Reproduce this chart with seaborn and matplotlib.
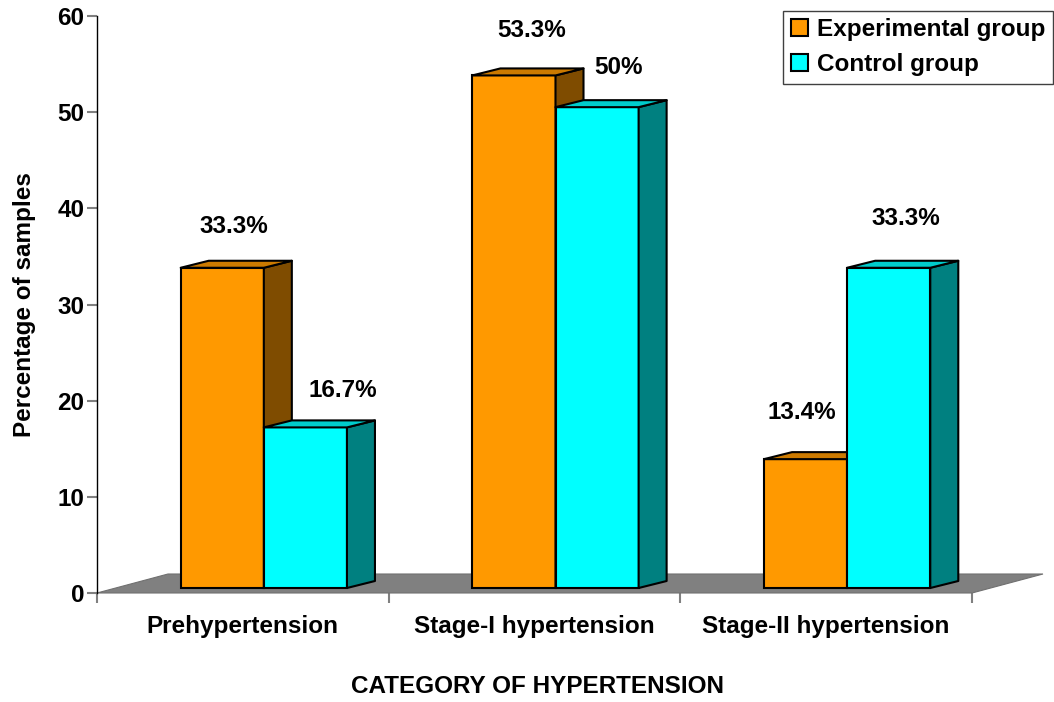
import pandas as pd
import seaborn as sns
import matplotlib.pyplot as plt
from matplotlib.patches import Polygon, Patch

# ---- data ----
categories = ["Prehypertension", "Stage-I hypertension", "Stage-II hypertension"]
groups = ["Experimental group", "Control group"]
experimental = [33.3, 53.3, 13.4]
control = [16.7, 50.0, 33.3]
labels_experimental = ["33.3%", "53.3%", "13.4%"]
labels_control = ["16.7%", "50%", "33.3%"]
yticks = [0, 10, 20, 30, 40, 50, 60]

# ---- styling ----
front_colors = {"Experimental group": "#FF9900", "Control group": "#00FFFF"}
side_colors = {"Experimental group": "#7F4C00", "Control group": "#008080"}
top_colors = {"Experimental group": "#CC7A00", "Control group": "#00CCCC"}
# value-label placement relative to the top-centre of each bar's front face (pixels)
label_nudge = {
    "Experimental group": [(12, 41), (18, 45), (-4, 47)],
    "Control group": [(37, 37), (21, 40), (17, 49)],
}
FS = 17.5

df = pd.DataFrame({
    "category": categories * 2,
    "group": [groups[0]] * len(categories) + [groups[1]] * len(categories),
    "value": experimental + control,
})
value_labels = {groups[0]: labels_experimental, groups[1]: labels_control}

sns.set_theme(style="white")
plt.rcParams["font.family"] = ["Liberation Sans", "DejaVu Sans"]
plt.rcParams["font.weight"] = "bold"
plt.rcParams["text.color"] = "black"
plt.rcParams["axes.labelcolor"] = "black"
plt.rcParams["axes.labelweight"] = "bold"

W, H = 1054, 702
fig = plt.figure(figsize=(W / 100, H / 100), dpi=100)
ax = fig.add_axes([97 / W, 109 / H, 875 / W, 577 / H])

sns.barplot(data=df, x="category", y="value", hue="group",
            order=categories, hue_order=groups, palette=front_colors,
            width=0.57, saturation=1, edgecolor="black", linewidth=1.5,
            errorbar=None, legend=False, ax=ax)

ax.set_xlim(-0.5, 2.5)
ax.set_ylim(0, 60)

# pseudo-3D offsets expressed in data units
ux = 3 / 875      # data units per pixel (x)
uy = 60 / 577     # data units per pixel (y)
shift_x, shift_y = 21 * ux, 5 * uy        # bars sit a little into the floor
depth_x, depth_y = 28 * ux, 7 * uy        # bar depth
floor_x, floor_y = 71 * ux, 19 * uy       # floor depth

# floor
floor = Polygon([(-0.5, 0), (2.5, 0), (2.5 + floor_x, floor_y), (-0.5 + floor_x, floor_y)],
                closed=True, facecolor="#808080", edgecolor="#707070", linewidth=0.8,
                zorder=1, clip_on=False)
ax.add_patch(floor)

for level, (container, group) in enumerate(zip(ax.containers, groups)):
    z = 3 + level
    for bar, text, (nx, ny) in zip(container, value_labels[group], label_nudge[group]):
        x0 = bar.get_x() + shift_x
        w = bar.get_width()
        h = bar.get_height()
        y0 = shift_y
        bar.set_x(x0)
        bar.set_y(y0)
        bar.set_zorder(z)
        side = Polygon([(x0 + w, y0), (x0 + w + depth_x, y0 + depth_y),
                        (x0 + w + depth_x, y0 + h + depth_y), (x0 + w, y0 + h)],
                       closed=True, facecolor=side_colors[group], edgecolor="black",
                       linewidth=1.5, joinstyle="round", zorder=z + 0.1)
        top = Polygon([(x0, y0 + h), (x0 + depth_x, y0 + h + depth_y),
                       (x0 + w + depth_x, y0 + h + depth_y), (x0 + w, y0 + h)],
                      closed=True, facecolor=top_colors[group], edgecolor="black",
                      linewidth=1.5, joinstyle="round", zorder=z + 0.2)
        ax.add_patch(side)
        ax.add_patch(top)
        ax.annotate(text, xy=(x0 + w / 2, y0 + h),
                    xytext=(nx * 0.72, ny * 0.72), textcoords="offset points",
                    ha="center", va="center", fontsize=FS, fontweight="bold",
                    zorder=6)

# axes, ticks, labels
for s in ["top", "right", "bottom"]:
    ax.spines[s].set_visible(False)
ax.spines["left"].set_color("black")
ax.spines["left"].set_linewidth(1.0)

ax.set_yticks(yticks)
ax.set_yticklabels([str(t) for t in yticks])
ax.tick_params(axis="y", left=True, length=7.2, width=1.5, color="#808080",
               pad=2, labelsize=FS, labelcolor="black")

ax.set_xticks(range(len(categories)))
ax.set_xticklabels(categories)
ax.set_xticks([i - 0.5 for i in range(len(categories) + 1)], minor=True)
ax.tick_params(axis="x", which="major", bottom=True, length=0, pad=16,
               labelsize=FS, labelcolor="black")
ax.tick_params(axis="x", which="minor", bottom=True, length=7.2, width=1.5,
               color="#808080")

ax.set_ylabel("Percentage of samples", fontsize=FS, fontweight="bold")
ax.yaxis.set_label_coords(-0.07, 0.5)
ax.set_xlabel("CATEGORY OF HYPERTENSION", fontsize=FS, fontweight="bold")
ax.xaxis.set_label_coords(0.503, -0.142)

handles = [Patch(facecolor=front_colors[g], edgecolor="black", linewidth=1.5, label=g)
           for g in groups]
leg = fig.legend(handles=handles, loc="upper right",
                 bbox_to_anchor=(1053 / W, 1 - 11 / H), bbox_transform=fig.transFigure,
                 frameon=True, fancybox=False, framealpha=1, edgecolor="#404040",
                 fontsize=FS, handlelength=0.7, handleheight=0.7,
                 handletextpad=0.4, borderpad=0.3, labelspacing=0.5,
                 borderaxespad=0)
leg.get_frame().set_linewidth(1.0)

fig.savefig("out.png", dpi=100)
